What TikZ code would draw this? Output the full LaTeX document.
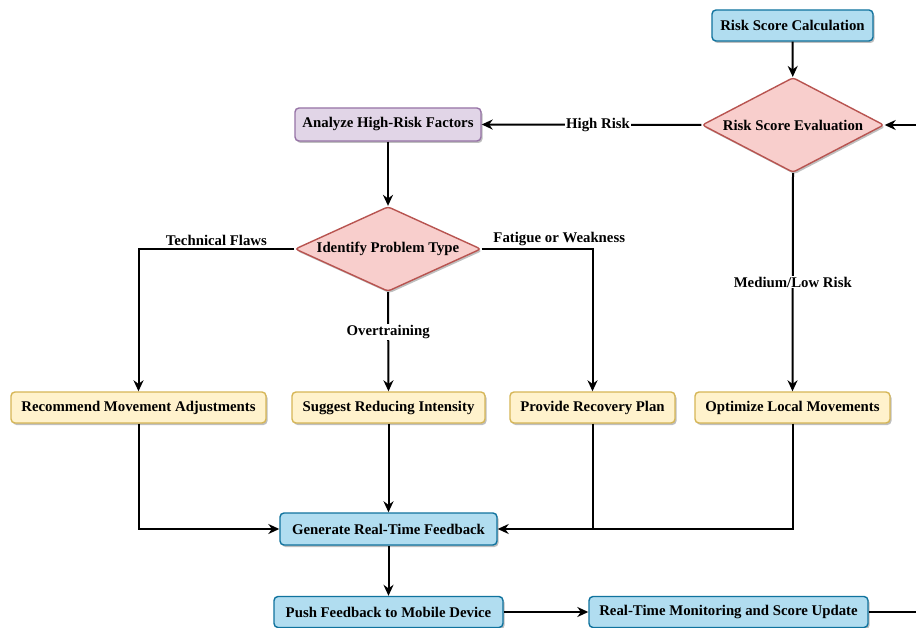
\documentclass[tikz,border=0pt]{standalone}
\usepackage{fontspec}
\setmainfont{Liberation Serif}
\usetikzlibrary{shapes.geometric,arrows.meta,shadows}
\definecolor{bluefill}{HTML}{B1DDF0}
\definecolor{blueline}{HTML}{10739E}
\definecolor{purfill}{HTML}{E1D5E7}
\definecolor{purline}{HTML}{9673A6}
\definecolor{yelfill}{HTML}{FFF2CC}
\definecolor{yelline}{HTML}{D6B656}
\definecolor{redfill}{HTML}{F8CECC}
\definecolor{redline}{HTML}{B85450}
\tikzset{
  txt/.style={font=\fontsize{14.8}{17}\selectfont\bfseries, text=black},
  shad/.style={drop shadow={shadow xshift=1.5pt, shadow yshift=-2pt, opacity=0.25, fill=black}},
  boxbase/.style={txt, rectangle, rounded corners=4pt, line width=1.4pt, minimum height=31pt, inner xsep=4pt, shad},
  bluebox/.style={boxbase, fill=bluefill, draw=blueline},
  purbox/.style={boxbase, fill=purfill, draw=purline},
  yelbox/.style={boxbase, fill=yelfill, draw=yelline},
  decide/.style={txt, diamond, aspect=2, inner sep=0pt, rounded corners=3pt, fill=redfill, draw=redline, line width=1.4pt, shad},
  arr/.style={line width=2pt, -{Stealth[length=11pt,width=10pt]}},
  plain/.style={line width=2pt},
  lbl/.style={txt, fill=white, inner sep=1pt},
  toplbl/.style={txt, above, inner sep=2pt},
}
\begin{document}
\begin{tikzpicture}[x=1pt,y=-1pt]
\useasboundingbox (0,0) rectangle (916,628);
\fill[white] (0,0) rectangle (916,628);

\node[bluebox, minimum width=161pt] (calc) at (792.5,25.5) {Risk Score Calculation};
\node[decide, minimum width=182pt, minimum height=95pt] (eval) at (793,125) {Risk Score Evaluation};
\node[purbox, minimum width=186pt, minimum height=33pt] (analyze) at (388,124.5) {Analyze High-Risk Factors};
\node[decide, minimum width=186pt, minimum height=84pt] (ident) at (388,249) {Identify Problem Type};
\node[yelbox, minimum width=255pt] (rec) at (138.5,407.5) {Recommend Movement Adjustments};
\node[yelbox, minimum width=193pt] (sugg) at (388.5,407.5) {Suggest Reducing Intensity};
\node[yelbox, minimum width=165pt] (prov) at (592.5,407.5) {Provide Recovery Plan};
\node[yelbox, minimum width=195pt] (opt) at (792.5,407.5) {Optimize Local Movements};
\node[bluebox, minimum width=217pt, minimum height=32pt] (gen) at (388.5,529) {Generate Real-Time Feedback};
\node[bluebox, minimum width=229pt] (push) at (388.5,612) {Push Feedback to Mobile Device};
\node[bluebox, minimum width=279pt] (mon) at (728.5,612) {Real-Time Monitoring and Score Update};

\coordinate (inR) at (916,125);
\coordinate (outR) at (916,612);

\draw[arr] (calc) -- (eval);
\draw[arr] (inR) -- (eval.east);
\draw[arr] (eval.west) -- node[lbl, pos=0.47] {High Risk} (analyze.east);
\draw[arr] (eval.south) -- node[lbl, pos=0.5] {Medium/Low Risk} (opt.north);
\draw[arr] (analyze) -- (ident);
\draw[arr] (ident.west) -| node[toplbl, pos=0.25] {Technical Flaws} (rec.north);
\draw[arr] (ident.south) -- node[lbl, pos=0.4] {Overtraining} (sugg.north);
\draw[arr] (ident.east) -| node[toplbl, pos=0.35] {Fatigue or Weakness} (prov.north);
\draw[arr] (rec.south) |- (gen.west);
\draw[arr] (sugg) -- (gen);
\draw[plain] (prov.south) -- (prov.south |- gen.east);
\draw[arr] (opt.south) |- (gen.east);
\draw[arr] (gen) -- (push);
\draw[arr] (push) -- (mon);
\draw[plain] (mon.east) -- (outR);
\end{tikzpicture}
\end{document}
